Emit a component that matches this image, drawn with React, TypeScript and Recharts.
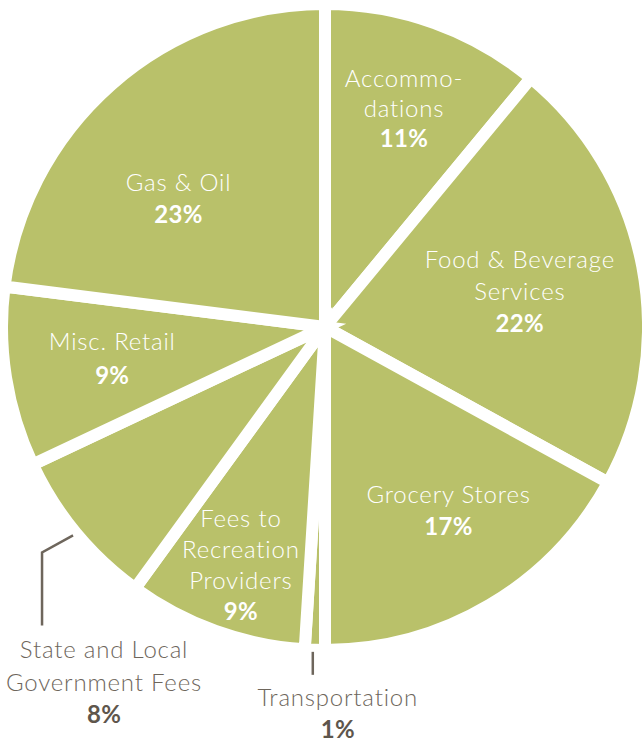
import React from 'react';
import { PieChart, Pie, Cell } from 'recharts';

const categories = [
  'Accommodations',
  'Food & Beverage Services',
  'Grocery Stores',
  'Transportation',
  'Fees to Recreation Providers',
  'State and Local Government Fees',
  'Misc. Retail',
  'Gas & Oil',
];
const shares = [11, 22, 17, 1, 9, 8, 9, 23];
const labelLines = [
  ['Accommo-', 'dations'],
  ['Food & Beverage', 'Services'],
  ['Grocery Stores'],
  ['Transportation'],
  ['Fees to', 'Recreation', 'Providers'],
  ['State and Local', 'Government Fees'],
  ['Misc. Retail'],
  ['Gas & Oil'],
];

const data = categories.map((name, i) => ({ name, value: shares[i] }));

// styling / layout (not data)
const GREEN = '#b9c16a';
const DARK = '#6e665c';
const DARK_BOLD = '#5e564c';
const FONT = 'Lato, "Open Sans", sans-serif';
const FS = 24;
const LS = 0.8;
const CAP = 8.5;
const GAP = 12;
const VISIBLE_R = 317;
// inside label placement: radius (px) and clockwise angle offset (deg); null = outside label
const insideLayout: ({ r: number; off: number; lh: number } | null)[] = [
  { r: 232, off: 0.1, lh: 30 },
  { r: 198, off: 0.5, lh: 32 },
  { r: 221, off: -3.4, lh: 32 },
  null,
  { r: 252, off: -0.3, lh: 31 },
  null,
  { r: 215, off: 0.7, lh: 34 },
  { r: 195, off: -7.3, lh: 32 },
];

const RAD = Math.PI / 180;
const polar = (cx: number, cy: number, r: number, deg: number) => ({
  x: cx + r * Math.cos(-deg * RAD),
  y: cy + r * Math.sin(-deg * RAD),
});

const textProps = (i: number, boldIdx: number, color: string, boldColor: string) => ({
  textAnchor: 'middle' as const,
  fill: i === boldIdx ? boldColor : color,
  fontFamily: FONT,
  fontSize: FS,
  fontWeight: i === boldIdx ? 700 : 300,
  letterSpacing: i === boldIdx ? 0.3 : LS,
});

const renderLabel = (props: any) => {
  const { cx, cy, midAngle, index, value } = props;
  const lines = labelLines[index];
  const lay = insideLayout[index];
  const all = [...lines, `${value}%`];
  const n = all.length;
  if (lay) {
    const p = polar(cx, cy, lay.r, midAngle - lay.off);
    return (
      <g key={`lbl-${index}`}>
        {all.map((t, i) => (
          <text key={i} x={p.x} y={p.y + (i - (n - 1) / 2) * lay.lh + CAP} {...textProps(i, n - 1, '#ffffff', '#ffffff')}>
            {t}
          </text>
        ))}
      </g>
    );
  }
  if (index === 5) {
    const s = polar(cx, cy, VISIBLE_R + 10, midAngle);
    const e = { x: s.x - 31, y: s.y + 17 };
    const f = { x: e.x, y: e.y + 73 };
    const tx = e.x + 62;
    return (
      <g key={`lbl-${index}`}>
        <polyline
          points={`${s.x},${s.y} ${e.x},${e.y} ${f.x},${f.y}`}
          fill="none"
          stroke={DARK}
          strokeWidth={2.5}
        />
        {all.map((t, i) => (
          <text key={i} x={tx} y={f.y + 33 + i * 32.5} {...textProps(i, n - 1, DARK, DARK_BOLD)}>
            {t}
          </text>
        ))}
      </g>
    );
  }
  // Transportation
  const s = polar(cx, cy, VISIBLE_R + 8, midAngle);
  const f = { x: s.x, y: s.y + 23 };
  const tx = s.x + 23;
  return (
    <g key={`lbl-${index}`}>
      <line x1={s.x - 2} y1={s.y} x2={f.x - 2} y2={f.y} stroke={DARK} strokeWidth={2.5} />
      {all.map((t, i) => (
        <text key={i} x={tx} y={s.y + 54 + i * 32} {...textProps(i, n - 1, DARK, DARK_BOLD)}>
          {t}
        </text>
      ))}
    </g>
  );
};

export default function App() {
  return (
    <div style={{ position: 'absolute', left: 0, top: 0, width: 642, height: 743, background: '#fff' }}>
      <PieChart width={642} height={743} margin={{ top: 0, right: 0, bottom: 0, left: 0 }}>
        <Pie
          data={data}
          dataKey="value"
          nameKey="name"
          cx={325}
          cy={327}
          outerRadius={VISIBLE_R + GAP / 2}
          innerRadius={0}
          startAngle={90}
          endAngle={-270}
          stroke="#ffffff"
          strokeWidth={GAP}
          label={renderLabel}
          labelLine={false}
          isAnimationActive={false}
        >
          {data.map((d) => (
            <Cell key={d.name} fill={GREEN} stroke="#ffffff" strokeWidth={GAP} />
          ))}
        </Pie>
      </PieChart>
    </div>
  );
}
